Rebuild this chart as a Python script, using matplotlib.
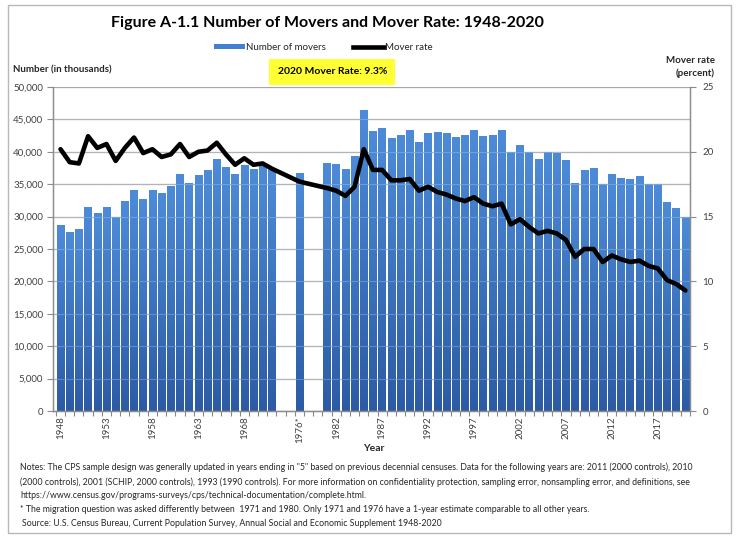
import numpy as np
import matplotlib
matplotlib.use('Agg')
import matplotlib.pyplot as plt
from matplotlib.colors import LinearSegmentedColormap
from matplotlib.lines import Line2D
from matplotlib.patches import Patch, Rectangle
from matplotlib.ticker import FuncFormatter, MultipleLocator

plt.rcParams['font.family'] = ['Lato', 'DejaVu Sans']

# Categories: 1948-1971, two blank slots, 1976, two blank slots, 1981-2020
categorias = [str(a) for a in range(1948, 1972)] + ['', '', '1976*', '', ''] + \
             [str(a) for a in range(1981, 2021)]

# Number of movers (thousands); None = no data
movers = [28600, 27520, 27930, 31430, 30400, 31430, 29890, 32360, 33950, 32670,
          34050, 33540, 34620, 36420, 35080, 36370, 37090, 38790, 37550, 36420,
          37810, 37300, 37700, 37190,
          None, None, 36680, None, None,
          38120, 38000, 37290, 39250, 46350, 43110, 43520, 42080, 42540, 43210,
          41460, 42750, 43000, 42750, 42230, 42490, 43260, 42340, 42540, 43210,
          39920, 40950, 39920, 38840, 39920, 39660, 38580, 35130, 37040, 37450,
          34980, 36420, 35800, 35650, 36160, 34980, 34880, 32200, 31280, 29840]

# Mover rate (percent)
taxa = [20.2, 19.2, 19.1, 21.2, 20.3, 20.6, 19.3, 20.3, 21.1, 19.9,
        20.2, 19.6, 19.8, 20.6, 19.6, 20.0, 20.1, 20.7, 19.8, 19.0,
        19.5, 19.0, 19.1, 18.7,
        None, None, 17.7, None, None,
        17.2, 17.0, 16.6, 17.3, 20.2, 18.6, 18.6, 17.8, 17.8, 17.9,
        17.0, 17.3, 16.9, 16.7, 16.4, 16.2, 16.5, 16.0, 15.8, 16.0,
        14.4, 14.8, 14.2, 13.7, 13.9, 13.7, 13.2, 11.9, 12.5, 12.5,
        11.5, 12.0, 11.7, 11.5, 11.6, 11.2, 11.0, 10.1, 9.8, 9.3]

# Labels shown on the x axis
rotulos = ['1948', '1953', '1958', '1963', '1968', '1976*', '1982', '1987',
           '1992', '1997', '2002', '2007', '2012', '2017']

cor_texto = '#404040'
cor_grade = '#a6a6a6'

fig = plt.figure(figsize=(7.4, 5.37), dpi=100)
ax = fig.add_axes([0.0716, 0.2346, 0.8608, 0.6034])
ax2 = ax.twinx()

x = np.arange(len(categorias))
largura = 0.82
xlim = (-0.82, len(categorias) - 0.55)

# bars with a vertical gradient each (like the Excel fill)
cmap = LinearSegmentedColormap.from_list('barra', ['#2c5ba4', '#4d8bd8'])
grad = np.linspace(0, 1, 128).reshape(-1, 1)
for i, v in enumerate(movers):
    if v is None:
        continue
    ax.imshow(grad, cmap=cmap, origin='lower', aspect='auto', zorder=2,
              extent=[i - largura / 2, i + largura / 2, 0, v], interpolation='bilinear')

ax.set_xlim(*xlim)
ax.set_ylim(0, 50000)
ax.yaxis.set_major_locator(MultipleLocator(5000))
ax.yaxis.set_major_formatter(FuncFormatter(lambda v, p: f'{int(v):,}'))
ax.grid(axis='y', color=cor_grade, lw=0.9, zorder=0)
ax.set_axisbelow(True)
# gridlines show faintly through the bars in the original
for g in range(5000, 50000, 5000):
    ax.axhline(g, color='#c8dbf3', lw=0.8, alpha=0.3, zorder=3)

# line, connected across the gaps
xs = [i for i, t in enumerate(taxa) if t is not None]
ys = [t for t in taxa if t is not None]
ax2.plot(xs, ys, color='black', lw=3.3, solid_joinstyle='round', solid_capstyle='round', zorder=5)
ax2.set_ylim(0, 25)
ax2.yaxis.set_major_locator(MultipleLocator(5))

# x ticks
pos_rotulos = [categorias.index(r) for r in rotulos]
ax.set_xticks(pos_rotulos)
ax.set_xticklabels(rotulos, rotation=90, fontsize=7, color=cor_texto)
ax.set_xticks(np.arange(-0.5, len(categorias), 1), minor=True)
ax.tick_params(axis='x', which='major', length=0, pad=4)
ax.tick_params(axis='x', which='minor', length=3.5, color='#888888', width=0.8)

for a in (ax, ax2):
    a.spines['top'].set_visible(False)
    for s in ('left', 'right', 'bottom'):
        a.spines[s].set_color('#8c8c8c')
        a.spines[s].set_linewidth(0.9)
ax.tick_params(axis='y', length=4, color='#8c8c8c', labelsize=7, labelcolor=cor_texto, pad=3)
ax2.tick_params(axis='y', length=4, color='#8c8c8c', labelsize=7, labelcolor=cor_texto, pad=5)

# titles and labels
fig.text(0.443, 0.958, 'Figure A-1.1 Number of Movers and Mover Rate: 1948-2020',
         ha='center', va='center', fontsize=11.5, fontweight='bold', color='black')
fig.text(0.017, 0.869, 'Number (in thousands)', ha='left', va='center',
         fontsize=7, fontweight='bold', color='#262626')
fig.text(0.966, 0.875, 'Mover rate\n(percent)', ha='right', va='center',
         fontsize=7, fontweight='bold', color='#262626', linespacing=1.5)
fig.text(0.449, 0.866, '2020 Mover Rate: 9.3%', ha='center', va='center',
         fontsize=7.5, fontweight='bold', color='black',
         bbox=dict(boxstyle='square,pad=0.8', facecolor='#ffff33', edgecolor='none'))
fig.text(0.505, 0.164, 'Year', ha='center', va='center', fontsize=7.5,
         fontweight='bold', color='#262626')

handles = [Patch(facecolor='#4180d0', edgecolor='none'),
           Line2D([], [], color='black', lw=3.3)]
fig.legend(handles, ['Number of movers', 'Mover rate'], loc='center',
           bbox_to_anchor=(0.437, 0.912), ncol=2, frameon=False, fontsize=7,
           handlelength=3.2, handleheight=0.5, handletextpad=0.1, columnspacing=2.8,
           labelcolor='#262626')

notas = [
    'Notes: The CPS sample design was generally updated in years ending in "5" based on previous decennial censuses. '
    'Data for the following years are: 2011 (2000 controls), 2010',
    '(2000 controls), 2001 (SCHIP, 2000 controls), 1993 (1990 controls). For more information on confidentiality '
    'protection, sampling error, nonsampling error, and definitions, see',
    'https://www.census.gov/programs-surveys/cps/technical-documentation/complete.html.',
    '* The migration question was asked differently between  1971 and 1980. Only 1971 and 1976 have a 1-year '
    'estimate comparable to all other years.',
]
ys_notas = [467, 482, 496, 510]
for t, yy in zip(notas, ys_notas):
    fig.text(20 / 740, 1 - yy / 537, t, ha='left', va='center', fontsize=6.3, color='#262626')
fig.text(22 / 740, 1 - 524 / 537, 'Source: U.S. Census Bureau, Current Population Survey, Annual Social '
         'and Economic Supplement 1948-2020', ha='left', va='center', fontsize=6.3, color='#262626')

# outer frame
fig.patches.append(Rectangle((8 / 740, 4 / 537), 723 / 740, 528 / 537, transform=fig.transFigure,
                             fill=False, edgecolor='#b8b8b8', lw=1.0))

fig.savefig('out.png', dpi=100)
